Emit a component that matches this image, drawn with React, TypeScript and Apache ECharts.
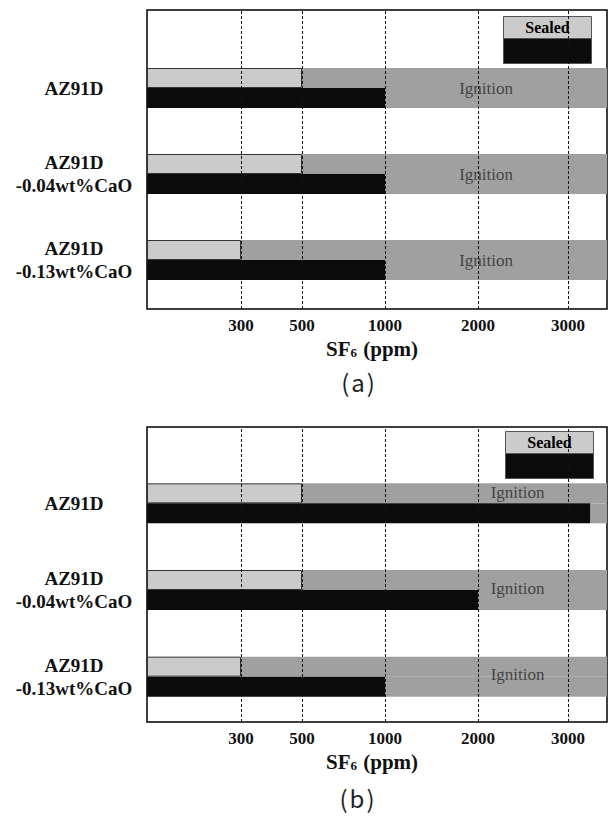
import React, { useEffect, useRef } from "react";
import * as echarts from "echarts";

// ---- data ----
const categories = ["AZ91D", "AZ91D\n-0.04wt%CaO", "AZ91D\n-0.13wt%CaO"];
const tickPpm = [300, 500, 1000, 2000, 3000];
// panel (a)
const sealedA = [500, 500, 300];
const openA = [1000, 1000, 1000];
// panel (b)
const sealedB = [500, 500, 300];
const openB = [3250, 2000, 1000];

// ---- axis scale (non-uniform, as in the original figure) ----
const PPM_ANCHORS = [0, 300, 500, 1000, 2000, 3000];
const SLOT_ANCHORS = [0, 94, 155, 238, 331, 421];
const SLOT_END = 460;

function toSlot(ppm: number): number {
  for (let i = 1; i < PPM_ANCHORS.length; i++) {
    if (ppm <= PPM_ANCHORS[i]) {
      const p0 = PPM_ANCHORS[i - 1], p1 = PPM_ANCHORS[i];
      const s0 = SLOT_ANCHORS[i - 1], s1 = SLOT_ANCHORS[i];
      return s0 + ((ppm - p0) / (p1 - p0)) * (s1 - s0);
    }
  }
  const n = PPM_ANCHORS.length;
  const slope = (SLOT_ANCHORS[n - 1] - SLOT_ANCHORS[n - 2]) / (PPM_ANCHORS[n - 1] - PPM_ANCHORS[n - 2]);
  return SLOT_ANCHORS[n - 1] + (ppm - PPM_ANCHORS[n - 1]) * slope;
}

// ---- layout / style ----
const SERIF = "Liberation Serif";
const C_SEALED = "#cbcbcb";
const C_IGN = "#a0a0a0";
const C_OPEN = "#0b0b0b";
const IGN_LABEL_PPM_A = 2090;
const IGN_LABEL_PPM_B = 2440;

const panels = [
  { frame: { left: 147, top: 10, width: 460, height: 299 }, bars: { left: 147, top: 45, width: 460, height: 258 }, sealed: sealedA, open: openA, ign: IGN_LABEL_PPM_A, ignOffsets: [0, 0, 0], legend: [503, 16], caption: "a", captionX: 358, captionY: 381 },
  { frame: { left: 147, top: 427, width: 460, height: 295 }, bars: { left: 147, top: 460, width: 460, height: 260 }, sealed: sealedB, open: openB, ign: IGN_LABEL_PPM_B, ignOffsets: [-11, -2, -2], legend: [505, 431], caption: "b", captionX: 357, captionY: 797 },
];

const tickLabelMap: Record<string, string> = {};
tickPpm.forEach((v) => { tickLabelMap[toSlot(v).toFixed(3)] = String(v); });

function buildOption() {
  const grid: any[] = [];
  const xAxis: any[] = [];
  const yAxis: any[] = [];
  const series: any[] = [];
  const graphic: any[] = [];

  panels.forEach((p, pi) => {
    const fi = pi * 2;
    const bi = pi * 2 + 1;
    grid.push({ ...p.frame, show: true, borderColor: "#000", borderWidth: 1.5, backgroundColor: "transparent" });
    grid.push({ ...p.bars, show: false });

    xAxis.push({
      gridIndex: fi, type: "value", min: 0, max: SLOT_END,
      axisLine: { show: false }, axisTick: { show: false }, splitLine: { show: false },
      axisLabel: {
        customValues: tickPpm.map(toSlot),
        margin: 8,
        fontFamily: SERIF, fontWeight: "bold", fontSize: 17, color: "#111",
        formatter: (v: number) => tickLabelMap[v.toFixed(3)] ?? "",
      },
      name: "{m|SF}{s|6}{m| (ppm)}",
      nameLocation: "middle",
      nameGap: 29,
      nameTextStyle: {
        padding: [0, 10, 0, 0],
        rich: {
          m: { fontFamily: SERIF, fontWeight: "bold", fontSize: 21, color: "#111" },
          s: { fontFamily: SERIF, fontWeight: "bold", fontSize: 13, color: "#111", padding: [7, 1, 0, 0] },
        },
      },
    });
    xAxis.push({ gridIndex: bi, type: "value", min: 0, max: SLOT_END, show: false });

    yAxis.push({ gridIndex: fi, type: "value", min: 0, max: 1, show: false });
    yAxis.push({
      gridIndex: bi, type: "category", data: categories, inverse: true,
      axisLine: { show: false }, axisTick: { show: false },
      axisLabel: {
        align: "center", margin: 73,
        fontFamily: SERIF, fontWeight: "bold", fontSize: 19, lineHeight: 23, color: "#111",
      },
    });

    // gridlines (dashed) at the tick values
    series.push({
      type: "scatter", xAxisIndex: fi, yAxisIndex: fi, data: [], silent: true, z: 5,
      markLine: {
        silent: true, symbol: ["none", "none"], label: { show: false },
        lineStyle: { type: [3, 2], color: "#111", width: 1 },
        data: tickPpm.map((v) => ({ xAxis: toSlot(v) })),
      },
    });

    const common = { type: "bar", xAxisIndex: bi, yAxisIndex: bi, barWidth: 20, barGap: "0%", silent: true };
    series.push({ ...common, name: "Sealed", stack: "top" + pi, data: p.sealed.map(toSlot),
      itemStyle: { color: C_SEALED, borderColor: "#333", borderWidth: 1 } });
    series.push({ ...common, name: "Ignition", stack: "top" + pi, data: p.sealed.map((v) => SLOT_END - toSlot(v)),
      itemStyle: { color: C_IGN } });
    series.push({ ...common, name: "Open", stack: "bot" + pi, data: p.open.map(toSlot),
      itemStyle: { color: C_OPEN } });
    series.push({ ...common, name: "Ignition", stack: "bot" + pi, data: p.open.map((v) => SLOT_END - toSlot(v)),
      itemStyle: { color: C_IGN } });

    // "Ignition" labels
    series.push({
      type: "scatter", xAxisIndex: bi, yAxisIndex: bi, symbolSize: 1, silent: true, z: 6,
      itemStyle: { color: "rgba(0,0,0,0)" },
      data: categories.map((c, i) => ({
        value: [toSlot(p.ign), i],
        label: { show: true, position: "inside", offset: [0, p.ignOffsets[i]], formatter: "Ignition",
          fontFamily: SERIF, fontSize: 17, color: "#2a2a2a" },
      })),
    });

    // legend box
    const [lx, ly] = p.legend;
    graphic.push({
      type: "group", left: lx, top: ly, z: 100,
      children: [
        { type: "rect", shape: { x: 0, y: 0, width: 88, height: 22 }, style: { fill: C_SEALED, stroke: "#555", lineWidth: 1 } },
        { type: "rect", shape: { x: 0, y: 22, width: 88, height: 25 }, style: { fill: C_OPEN, stroke: "#555", lineWidth: 1 } },
        { type: "text", x: 44, y: 11, style: { text: "Sealed", fill: "#000", font: `bold 16px "${SERIF}"`, align: "center", verticalAlign: "middle" } },
      ],
    });
    graphic.push({
      type: "text", x: p.captionX, y: p.captionY, z: 100,
      style: {
        text: "{p|(}{l|" + p.caption + "}{p|)}",
        align: "center", verticalAlign: "middle",
        rich: {
          p: { fontFamily: "Noto Sans CJK KR", fontSize: 24, fill: "#222" } as any,
          l: { fontFamily: "Noto Sans CJK KR", fontSize: 24, fill: "#222", padding: [0, 2, 0, 2] } as any,
        },
      },
    });
  });

  return { animation: false, backgroundColor: "#fff", grid, xAxis, yAxis, series, graphic };
}

export default function App() {
  const ref = useRef<HTMLDivElement>(null);
  useEffect(() => {
    document.body.style.margin = "0";
    const chart = echarts.init(ref.current!, null, { renderer: "svg" });
    chart.setOption(buildOption());
    return () => chart.dispose();
  }, []);
  return <div ref={ref} style={{ width: 611, height: 823 }} />;
}
